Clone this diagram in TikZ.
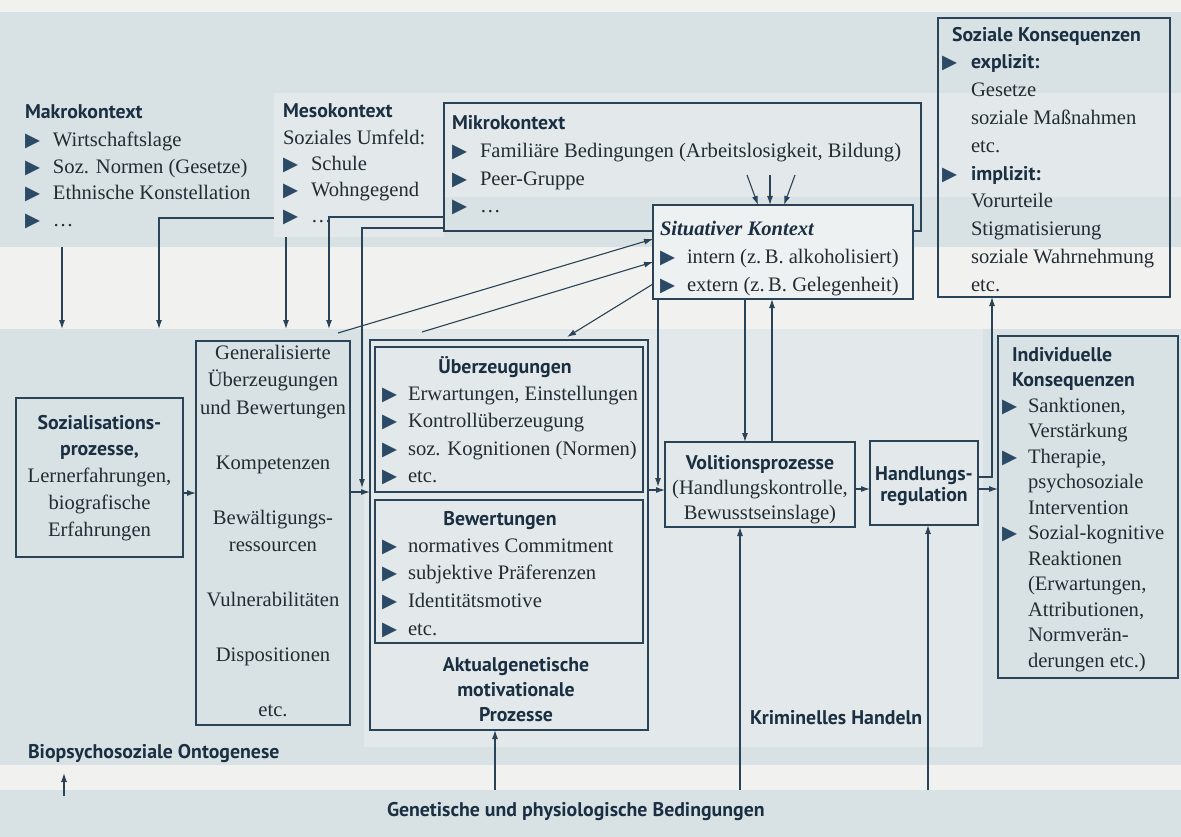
\documentclass[tikz,border=0pt]{standalone}
\usepackage{fontspec}
\setmainfont{Liberation Serif}
\newfontfamily\hsans{PT Sans}
\newfontfamily\symf{DejaVu Sans}
\usetikzlibrary{arrows.meta,calc}
\definecolor{bandc}{HTML}{D8E1E4}
\definecolor{lightc}{HTML}{E3E9EA}
\definecolor{paperc}{HTML}{F1F2F0}
\definecolor{sitc}{HTML}{EEF1F1}
\definecolor{linec}{HTML}{2A4356}
\definecolor{tric}{HTML}{2B4A66}
\definecolor{txtc}{HTML}{232B33}
\definecolor{headc}{HTML}{1B2F42}
\newcommand\tribul[1][28pt]{\makebox[#1][l]{\textcolor{tric}{\symf\fontsize{19.5}{19.5}\selectfont ▶}}}
\newcommand\hdr[1]{{\color{headc}\hsans\bfseries\fontsize{19.8}{21}\selectfont #1}}
\newcommand\firstl{\rule{0pt}{20pt}}
\newcommand\indt[1][28pt]{\hspace*{#1}}
\newcommand\sr[1]{\fontsize{20.6}{#1}\selectfont}
\begin{document}
\begin{tikzpicture}[x=1pt,y=-1pt,
  every node/.style={inner sep=0pt, outer sep=0pt, text=txtc},
  box/.style={draw=linec, line width=1.2pt, rectangle, inner sep=0pt, anchor=north west},
  band/.style={fill=bandc, rectangle, inner sep=0pt, anchor=north west, minimum width=1181pt},
  txt/.style={anchor=north west, align=left},
  ctxt/.style={anchor=north, align=center},
  arr/.style={draw=linec, line width=1.1pt, -{Latex[length=9pt,width=6pt]}},
]
\useasboundingbox (0,0) rectangle (1181,837);
\fill[paperc] (0,0) rectangle (1181,837);
% bands
\node[band, minimum height=235pt] (topband) at (0,12) {};
\fill[lightc] (274,93) rectangle (1181,197);
\node[fill=lightc, rectangle, anchor=north west, minimum width=170pt, minimum height=144pt] (meso) at (274,93) {};
\node[band, minimum height=436pt] (lowband) at (0,329) {};
\fill[lightc] (364,329) rectangle (983,747);
\node[band, minimum height=47pt] (botband) at (0,790) {};

% boxes
\node[box, minimum width=477pt, minimum height=128pt] (mikro) at (444,103) {};
\node[box, fill=sitc, minimum width=260pt, minimum height=94pt] (sit) at (653,205) {};
\node[box, minimum width=232pt, minimum height=279pt] (sozk) at (938,18) {};
\node[box, minimum width=167pt, minimum height=159pt] (sozi) at (16,398) {};
\node[box, minimum width=154pt, minimum height=384pt] (gen) at (196,341) {};
\node[box, minimum width=278pt, minimum height=390pt] (mot) at (370,340) {};
\node[box, minimum width=268pt, minimum height=145pt] (ueb) at (375,347) {};
\node[box, minimum width=268pt, minimum height=143pt] (bew) at (375,500) {};
\node[box, minimum width=190pt, minimum height=85pt] (vol) at (665,442) {};
\node[box, minimum width=108pt, minimum height=84pt] (hand) at (870,441) {};
\node[box, minimum width=180pt, minimum height=342pt] (ind) at (998,336) {};

% texts
\node[txt, font=\sr{27}] (makrot) at (25,99)
  {\firstl\hdr{Makrokontext}\\ \tribul Wirtschaftslage\\ \tribul Soz. Normen (Gesetze)\\ \tribul Ethnische Konstellation\\ \tribul …};
\node[txt, font=\sr{26.2}] (mesot) at (283,98)
  {\firstl\hdr{Mesokontext}\\ Soziales Umfeld:\\ \tribul Schule\\ \tribul Wohngegend\\ \tribul …};
\node[txt, font=\sr{27.6}] (mikrot) at (452,110)
  {\firstl\hdr{Mikrokontext}\\ \tribul Familiäre Bedingungen (Arbeitslosigkeit, Bildung)\\ \tribul Peer-Gruppe\\ \tribul …};
\node[txt, font=\sr{28}] (sitt) at (660,215)
  {\firstl{\color{headc}\bfseries\itshape Situativer Kontext}\\ \tribul[27pt]intern (z.\,B. alkoholisiert)\\ \tribul[27pt]extern (z.\,B. Gelegenheit)};
\node[txt, font=\sr{27.8}] (sozkt) at (942,21)
  {\firstl\indt[10pt]\hdr{Soziale Konsequenzen}\\ \tribul[29pt]\hdr{explizit:}\\ \indt[29pt]Gesetze\\ \indt[29pt]soziale Maßnahmen\\ \indt[29pt]etc.\\ \tribul[29pt]\hdr{implizit:}\\ \indt[29pt]Vorurteile\\ \indt[29pt]Stigmatisierung\\ \indt[29pt]soziale Wahrnehmung\\ \indt[29pt]etc.};
\node[ctxt, font=\sr{26.75}] (sozit) at (99.5,409)
  {\firstl\hdr{Sozialisations-}\\ \hdr{prozesse,}\\ Lernerfahrungen,\\ biografische\\ Erfahrungen};
\node[ctxt, font=\sr{27.5}] (gent) at (273,339)
  {\firstl Generalisierte\\ Überzeugungen\\ und Bewertungen\\ \mbox{}\\ Kompetenzen\\ \mbox{}\\ Bewältigungs-\\ ressourcen\\ \mbox{}\\ Vulnerabilitäten\\ \mbox{}\\ Dispositionen\\ \mbox{}\\ etc.};
\node[ctxt, font=\sr{27}] (uebh) at (505,353) {\firstl\hdr{Überzeugungen}};
\node[txt, font=\sr{27.5}] (uebt) at (382,380)
  {\firstl\tribul[26pt]Erwartungen, Einstellungen\\ \tribul[26pt]Kontrollüberzeugung\\ \tribul[26pt]soz. Kognitionen (Normen)\\ \tribul[26pt]etc.};
\node[ctxt, font=\sr{27}] (bewh) at (500,505) {\firstl\hdr{Bewertungen}};
\node[txt, font=\sr{27.7}] (bewt) at (382,532)
  {\firstl\tribul[26pt]normatives Commitment\\ \tribul[26pt]subjektive Präferenzen\\ \tribul[26pt]Identitätsmotive\\ \tribul[26pt]etc.};
\node[ctxt, font=\sr{25}] (aktt) at (516,651)
  {\firstl\hdr{Aktualgenetische}\\ \hdr{motivationale}\\ \hdr{Prozesse}};
\node[ctxt, font=\sr{25}] (volt) at (760,449)
  {\firstl\hdr{Volitionsprozesse}\\ (Handlungskontrolle,\\ Bewusstseinslage)};
\node[ctxt, font=\sr{21}] (handt) at (924,460)
  {\firstl\hdr{Handlungs-}\\ \hdr{regulation}};
\node[txt, font=\sr{25.5}] (indt) at (1002,341)
  {\firstl\indt[10pt]\hdr{Individuelle}\\ \indt[10pt]\hdr{Konsequenzen}\\ \tribul[26pt]Sanktionen,\\ \indt[26pt]Verstärkung\\ \tribul[26pt]Therapie,\\ \indt[26pt]psychosoziale\\ \indt[26pt]Intervention\\ \tribul[26pt]Sozial-kognitive\\ \indt[26pt]Reaktionen\\ \indt[26pt](Erwartungen,\\ \indt[26pt]Attributionen,\\ \indt[26pt]Normverän-\\ \indt[26pt]derungen etc.)};
\node[anchor=base west] (biop) at (28,758) {\hdr{Biopsychosoziale Ontogenese}};
\node[anchor=base west] (krim) at (750,724) {\hdr{Kriminelles Handeln}};
\node[anchor=base west] (genb) at (387,816) {\hdr{Genetische und physiologische Bedingungen}};

% connectors
\draw[arr] ($(topband.south west)+(62,0)$) -- ($(lowband.north west)+(62,0)$);
\draw[arr] ($(meso.north west)+(0,125)$) -| ($(lowband.north west)+(159,0)$);
\draw[arr] ($(meso.south west)+(12,0)$) -- ($(lowband.north west)+(286,0)$);
\draw[arr] ($(mikro.north west)+(0,114)$) -| ($(lowband.north west)+(329,0)$);
\draw[arr] ($(mikro.north west)+(0,125)$) -| ($(gen.north east)+(12,147)$);
\draw[arr] ($(lowband.north west)+(338,4)$) -- ($(sit.north west)+(0,34)$);
\draw[arr] ($(lowband.north west)+(422,3)$) -- ($(sit.north west)+(0,57)$);
\draw[arr] ($(sit.north west)+(0,79)$) -- ($(mot.north west)+(197,-3)$);
\draw[arr] ($(sit.north west)+(94,-30)$) -- ($(sit.north west)+(105,0)$);
\draw[arr] ($(sit.north west)+(117,-30)$) -- ($(sit.north west)+(117,0)$);
\draw[arr] ($(sit.north west)+(142,-30)$) -- ($(sit.north west)+(131,0)$);
\draw[arr] ($(sit.south west)+(5,0)$) -- ($(mot.north east)+(10,147)$);
\draw[arr] ($(sit.south west)+(92,0)$) -- ($(vol.north west)+(80,0)$);
\draw[arr] ($(vol.north west)+(107,0)$) -- ($(sit.south west)+(119,0)$);
\draw[arr] ($(hand.north east)+(0,36)$) -- ++(14,0) -- ($(sozk.south west)+(54,0)$);
\draw[arr] ($(sozi.north east)+(0,95)$) -- ($(gen.north west)+(0,152)$);
\draw[arr] ($(gen.north east)+(0,151)$) -- ($(mot.north west)+(0,152)$);
\draw[arr] ($(mot.north east)+(0,150)$) -- ($(vol.north west)+(0,48)$);
\draw[arr] ($(vol.north east)+(0,47)$) -- ($(hand.north west)+(0,48)$);
\draw[arr] ($(hand.north east)+(0,48)$) -- ($(ind.north west)+(0,153)$);
\draw[arr] ($(botband.north west)+(740,0)$) -- ($(vol.south west)+(75,0)$);
\draw[arr] ($(botband.north west)+(928,0)$) -- ($(hand.south west)+(58,0)$);
\draw[arr] ($(botband.north west)+(495,0)$) -- ($(mot.south west)+(125,0)$);
\draw[arr] ($(botband.north west)+(64,6)$) -- ($(lowband.south west)+(64,8)$);
\end{tikzpicture}
\end{document}
